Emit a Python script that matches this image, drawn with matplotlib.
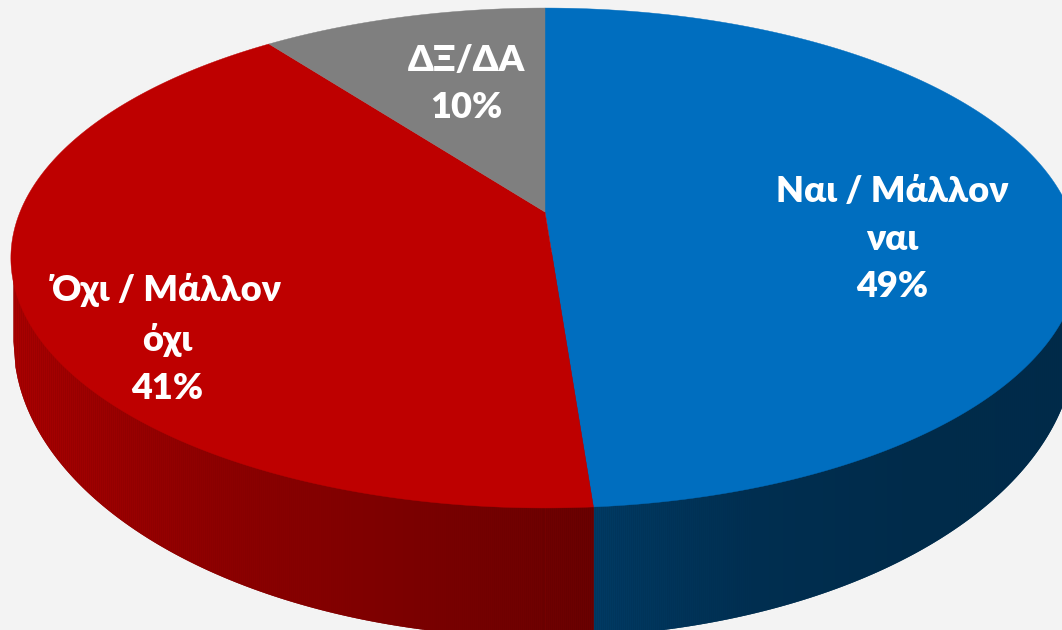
import numpy as np
import matplotlib
matplotlib.use('Agg')
import matplotlib.pyplot as plt
from matplotlib.colors import LinearSegmentedColormap

labels = ['Ναι / Μάλλον\nναι', 'Όχι / Μάλλον\nόχι', 'ΔΞ/ΔΑ']
percents = [49, 41, 10]
# slice sizes as measured on the picture, the labels above are rounded
shares = [48.8, 40.9, 10.3]
top_colors = ['#006EBF', '#BE0000', '#7F7F7F']
label_pos = [(892, 239), (167, 339), (466, 84)]

# perspective disc, pixel units
cx, cy = 545, 212
a, b, k = 525, 241.5, 0.184
# lower rim of the wall
rim_cx, rim_cy, rim_a, rim_b = 544, 341, 531, 296


def disc_point(theta):
    x = a * np.cos(theta) / (1 + k * np.sin(theta))
    y = b * np.sin(theta) / (1 + k * np.sin(theta))
    return cx + x, cy - y


def rim_lower(xs):
    return rim_cy + rim_b * np.sqrt(np.clip(1 - ((xs - rim_cx) / rim_a) ** 2, 0, 1))


fig = plt.figure(figsize=(10.62, 6.30), dpi=100, facecolor='#F3F3F3')
ax = fig.add_axes([0, 0, 1, 1])
ax.set_xlim(0, 1062)
ax.set_ylim(630, 0)
ax.axis('off')

edges = 90 - 3.6 * np.cumsum([0] + shares)
split_x, split_y = disc_point(np.radians(edges[1]))

# side wall, shaded in thin strips
red_side = LinearSegmentedColormap.from_list('r', ['#A80000', '#8E0000', '#7C0000', '#640000'])
blue_side = LinearSegmentedColormap.from_list('b', ['#003A63', '#002E50', '#002B4A', '#002A48'])
left_x = rim_cx - rim_a
right_x = rim_cx + rim_a
xs = np.arange(left_x, right_x + 1, 2.0)
xs = np.append(xs, split_x)
xs.sort()
ax.fill_between(xs[xs <= split_x], cy + 40, rim_lower(xs[xs <= split_x]), color='#800000', lw=0)
ax.fill_between(xs[xs >= split_x], cy + 40, rim_lower(xs[xs >= split_x]), color='#002E50', lw=0)
for x0, x1 in zip(xs[:-1], xs[1:]):
    seg = np.array([x0, x1])
    if x1 <= split_x:
        c = red_side((x0 - left_x) / (split_x - left_x))
    else:
        c = blue_side((x0 - split_x) / (right_x - split_x))
    ax.fill_between(seg, cy + 40, rim_lower(seg), color=c, lw=0)

# top of the pie
for start, end, color in zip(edges[:-1], edges[1:], top_colors):
    t = np.radians(np.linspace(start, end, 300))
    px, py = disc_point(t)
    ax.fill(np.r_[cx, px], np.r_[cy, py], color=color, lw=0.3)

for label, pct, (x, y) in zip(labels, percents, label_pos):
    ax.text(x, y, f'{label}\n{pct}%', ha='center', va='center', color='white',
            fontsize=26, fontweight=800, family=['Lato', 'Open Sans'], linespacing=1.55)

fig.savefig('out.png', dpi=100, facecolor=fig.get_facecolor())
